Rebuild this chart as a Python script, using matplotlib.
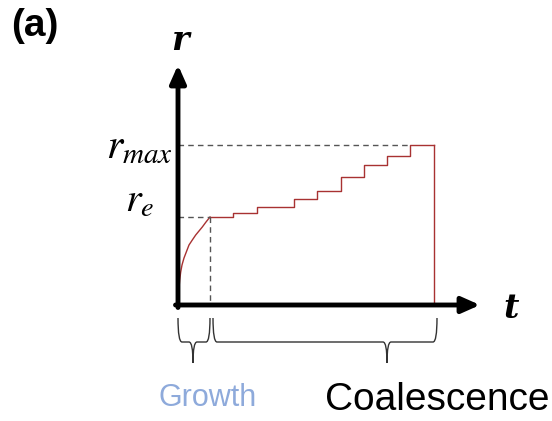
import numpy as np
import matplotlib.pyplot as plt
from matplotlib.path import Path
from matplotlib.patches import PathPatch

# growth curve up to r_e, then coalescence steps up to r_max
t_growth = [0, 0.3, 1, 1.7, 2.7, 4, 6, 8.3, 11, 14.3, 17.7, 21, 24.3, 28, 32]
r_growth = [0, 8, 17, 25, 33, 40, 47, 53, 60, 65, 70, 74, 78, 83, 88]
t_steps = [32, 55, 79, 116, 139, 163, 186, 209, 232, 256]
r_steps = [88, 92, 98, 106, 114, 128, 140, 149, 160]
t_e, r_e = 32, 88
t_end, r_max = 256, 160

fig = plt.figure(figsize=(5.52, 4.21), dpi=100)
ax = fig.add_axes([0, 0, 1, 1])
ax.set_xlim(-178, 552 - 178)
ax.set_ylim(-116, 305)
ax.axis('off')

red = '#a83232'
ax.plot(t_growth, r_growth, color=red, lw=1.0)
ax.step(t_steps, r_steps + [r_steps[-1]], where='post', color=red, lw=1.0)
ax.plot([t_end, t_end], [r_max, 0], color=red, lw=1.0)

# guide lines to the axes
dash = dict(color='#555555', lw=1.0, linestyle=(0, (4, 3)))
ax.plot([0, t_e], [r_e, r_e], **dash)
ax.plot([t_e, t_e], [r_e, 0], **dash)
ax.plot([0, t_steps[-2]], [r_max, r_max], **dash)

# axes with arrow heads
arrow = dict(arrowstyle='-|>,head_length=0.9,head_width=0.4', lw=3.5, color='black',
             mutation_scale=12, shrinkA=0, shrinkB=0)
ax.annotate('', xy=(0, 240), xytext=(0, -2.5), arrowprops=arrow)
ax.annotate('', xy=(302, 0), xytext=(-2.5, 0), arrowprops=arrow)

ax.text(2, 265, 'r', fontsize=24, fontweight='bold', style='italic', family='DejaVu Serif',
        ha='center', va='center')
ax.text(333, -3, 't', fontsize=24, fontweight='bold', style='italic', family='DejaVu Serif',
        ha='center', va='center')

plt.rcParams['mathtext.fontset'] = 'stix'
ax.text(-5, 147, r'$r_{max}$', fontsize=30, ha='right', va='baseline')
ax.text(-24, 93, r'$r_e$', fontsize=29, ha='right', va='baseline')


def brace(t0, t1, tc, top, mid, tip):
    k = 4
    verts = [(t0, top), (t0, mid), (t0 + k, mid),
             (tc - k, mid), (tc, mid), (tc, tip),
             (tc, mid), (tc + k, mid),
             (t1 - k, mid), (t1, mid), (t1, top)]
    codes = [Path.MOVETO, Path.CURVE3, Path.CURVE3,
             Path.LINETO, Path.CURVE3, Path.CURVE3,
             Path.CURVE3, Path.CURVE3,
             Path.LINETO, Path.CURVE3, Path.CURVE3]
    ax.add_patch(PathPatch(Path(verts, codes), fill=False, ec='#333333', lw=1.0))


brace(0, 32, 15, -13, -37, -58)
brace(35, 259, 209, -13, -37, -58)

ax.text(30, -93, 'Growth', fontsize=22, color='#8eaadb', family='Liberation Sans',
        ha='center', va='center')
ax.text(259, -95, 'Coalescence', fontsize=28, color='black', family='Liberation Sans',
        ha='center', va='center')
ax.text(-167, 279, '(a)', fontsize=28, fontweight='bold', family='Liberation Sans',
        ha='left', va='center')

fig.savefig('out.png', dpi=100, facecolor='white')
